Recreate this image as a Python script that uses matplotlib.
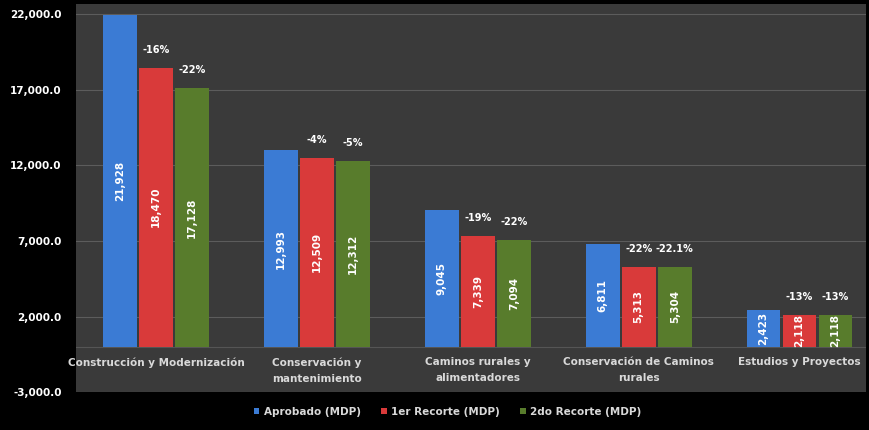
import numpy as np
import matplotlib
matplotlib.use("Agg")
import matplotlib.pyplot as plt

# =========================
# DATOS
# =========================
categorias = [
    "Construcción y Modernización",
    "Conservación y\nmantenimiento",
    "Caminos rurales y\nalimentadores",
    "Conservación de Caminos\nrurales",
    "Estudios y Proyectos",
]
aprobado = [21928, 12993, 9045, 6811, 2423]
recorte1 = [18470, 12509, 7339, 5313, 2118]
recorte2 = [17128, 12312, 7094, 5304, 2118]
pct1 = ["-16%", "-4%", "-19%", "-22%", "-13%"]
pct2 = ["-22%", "-5%", "-22%", "-22.1%", "-13%"]
series_nombres = ["Aprobado (MDP)", "1er Recorte (MDP)", "2do Recorte (MDP)"]
yticks = [-3000, 2000, 7000, 12000, 17000, 22000]

colores = ["#3b7bd4", "#d93a3a", "#587c2c"]

# =========================
# FIGURA
# =========================
fig = plt.figure(figsize=(8.69, 4.30), dpi=100, facecolor="black")
ax = fig.add_axes([0.087, 0.088, 0.909, 0.902])
ax.set_facecolor("#3a3a3a")

x = np.arange(len(categorias))
w = 0.21
paso = 0.224
series = [aprobado, recorte1, recorte2]

barras = []
for i, (vals, col) in enumerate(zip(series, colores)):
    xs = x + (i - 1) * paso
    b = ax.bar(xs, vals, width=w, color=col, label=series_nombres[i], zorder=3)
    barras.append(b)
    for xi, v in zip(xs, vals):
        ax.text(xi, v / 2, f"{v:,}", rotation=90, ha="center", va="center",
                color="white", fontsize=7.5, fontweight="bold", zorder=4)

# porcentajes sobre barras de recortes
for k, (vals, labs) in enumerate([(recorte1, pct1), (recorte2, pct2)]):
    xs = x + k * paso
    for xi, v, t in zip(xs, vals, labs):
        ax.annotate(t, (xi, v), xytext=(0, 9), textcoords="offset points",
                    ha="center", va="bottom", color="white", fontsize=7,
                    fontweight="bold")

# nombres de categorias
for xi, c in zip(x, categorias):
    ax.text(xi, -700, c, ha="center", va="top", color="#d9d9d9",
            fontsize=7.5, fontweight="bold", linespacing=1.75)

ax.set_xlim(-0.5, 4.41)
ax.set_ylim(-3000, 22660)
ax.set_yticks(yticks)
ax.set_yticklabels([f"{t:,.1f}" for t in yticks], color="white",
                   fontsize=7.5, fontweight="bold")
ax.set_xticks([])
ax.tick_params(axis="y", length=0, pad=10)
ax.grid(axis="y", color="#5c5c5c", linewidth=0.8, zorder=0)
ax.axhline(0, color="#555555", linewidth=0.8, zorder=2)
for s in ax.spines.values():
    s.set_visible(False)

leg = fig.legend(handles=barras, labels=series_nombres, loc="center",
                 bbox_to_anchor=(0.515, 0.042), ncol=3, frameon=False,
                 fontsize=7.5, handlelength=0.5, handleheight=0.5,
                 handletextpad=0.4, columnspacing=2.0)
for t in leg.get_texts():
    t.set_color("#d9d9d9")
    t.set_fontweight("bold")

plt.savefig("out.png", dpi=100, facecolor="black")
